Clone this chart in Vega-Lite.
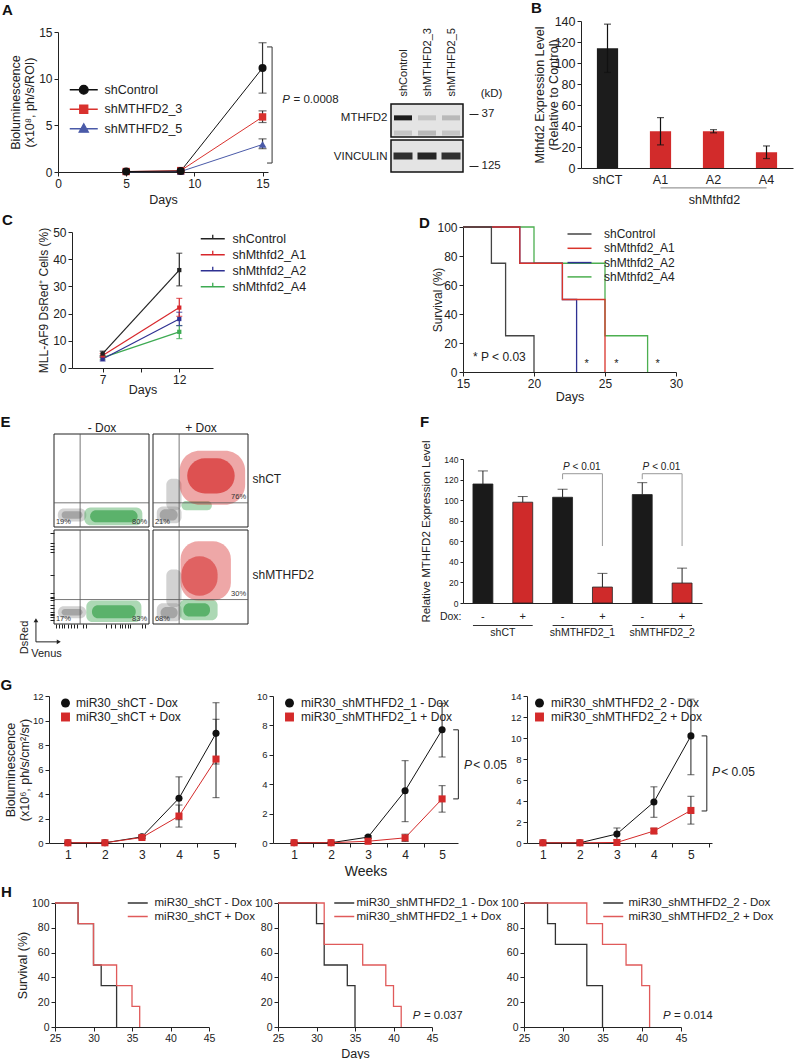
{
"$schema": "https://vega.github.io/schema/vega-lite/v6.json",
"background": "white",
"width": 794,
"height": 1059,
"autosize": {"type": "none"},
"padding": 0,
"config": {
 "font": "Liberation Sans",
 "view": {"stroke": null},
 "axis": {"grid": false, "domainColor": "#222", "tickColor": "#222", "labelColor": "#222", "titleColor": "#222", "titleFontWeight": "normal", "labelFontSize": 11, "titleFontSize": 12, "tickSize": 4, "labelPadding": 2, "titlePadding": 5, "labelFlush": false, "labelOverlap": false, "domainWidth": 1, "tickWidth": 1},
 "legend": {"padding": 0, "labelColor": "#222", "orient": "none"},
 "text": {"color": "#222"}
},
"datasets": {
 "A": [
  {"series":"shMTHFD2_5","day":5,"value":0.03},
  {"series":"shMTHFD2_5","day":9,"value":0.05},
  {"series":"shMTHFD2_5","day":15,"value":2.95,"lower":2.5,"upper":3.55},
  {"series":"shMTHFD2_3","day":5,"value":0.05},
  {"series":"shMTHFD2_3","day":9,"value":0.15},
  {"series":"shMTHFD2_3","day":15,"value":5.9,"lower":5.3,"upper":6.55},
  {"series":"shControl","day":5,"value":0.05},
  {"series":"shControl","day":9,"value":0.1},
  {"series":"shControl","day":15,"value":11.15,"lower":8.45,"upper":13.85}
 ],
 "B": [
  {"group":"shCT","value":114,"lower":91,"upper":137},
  {"group":"A1","value":35,"lower":22,"upper":48},
  {"group":"A2","value":35,"lower":33.5,"upper":36.5},
  {"group":"A4","value":15,"lower":9,"upper":21}
 ],
 "blot": [
  {"protein":"MTHFD2","lane":"shControl","laneIndex":1,"pos":0.42,"intensity":0.95},
  {"protein":"MTHFD2","lane":"shMTHFD2_3","laneIndex":2,"pos":0.42,"intensity":0.15},
  {"protein":"MTHFD2","lane":"shMTHFD2_5","laneIndex":3,"pos":0.42,"intensity":0.2},
  {"protein":"MTHFD2","lane":"shControl","laneIndex":1,"pos":0.88,"intensity":0.15},
  {"protein":"MTHFD2","lane":"shMTHFD2_3","laneIndex":2,"pos":0.88,"intensity":0.2},
  {"protein":"MTHFD2","lane":"shMTHFD2_5","laneIndex":3,"pos":0.88,"intensity":0.15},
  {"protein":"VINCULIN","lane":"shControl","laneIndex":1,"pos":0.5,"intensity":0.85},
  {"protein":"VINCULIN","lane":"shMTHFD2_3","laneIndex":2,"pos":0.5,"intensity":0.9},
  {"protein":"VINCULIN","lane":"shMTHFD2_5","laneIndex":3,"pos":0.5,"intensity":0.85}
 ],
 "C": [
  {"series":"shMthfd2_A4","day":7,"value":3.8,"lower":3.2,"upper":4.4},
  {"series":"shMthfd2_A4","day":12,"value":13.3,"lower":10.8,"upper":15.6},
  {"series":"shMthfd2_A2","day":7,"value":3.3,"lower":2.6,"upper":4.0},
  {"series":"shMthfd2_A2","day":12,"value":18.0,"lower":15.6,"upper":20.5},
  {"series":"shMthfd2_A1","day":7,"value":4.6,"lower":3.9,"upper":5.3},
  {"series":"shMthfd2_A1","day":12,"value":22.2,"lower":19.0,"upper":25.6},
  {"series":"shControl","day":7,"value":5.3,"lower":4.5,"upper":6.2},
  {"series":"shControl","day":12,"value":36.0,"lower":30.2,"upper":42.2}
 ],
 "D": [
  {"series":"shMthfd2_A4","day":15,"surv":100},{"series":"shMthfd2_A4","day":20,"surv":75},{"series":"shMthfd2_A4","day":25,"surv":25},{"series":"shMthfd2_A4","day":28,"surv":0},
  {"series":"shMthfd2_A2","day":15,"surv":100},{"series":"shMthfd2_A2","day":19,"surv":75},{"series":"shMthfd2_A2","day":22,"surv":50},{"series":"shMthfd2_A2","day":23,"surv":0},
  {"series":"shMthfd2_A1","day":15,"surv":100},{"series":"shMthfd2_A1","day":19,"surv":75},{"series":"shMthfd2_A1","day":22,"surv":50},{"series":"shMthfd2_A1","day":25,"surv":0},
  {"series":"shControl","day":15,"surv":100},{"series":"shControl","day":17,"surv":75},{"series":"shControl","day":18,"surv":25},{"series":"shControl","day":20,"surv":0}
 ],
 "flow": [
  {"panel":"TL","population":"gray","density":"sparse","x1":4,"x2":34,"y1":6,"y2":20},
  {"panel":"TL","population":"gray","density":"dense","x1":8,"x2":30,"y1":9,"y2":17},
  {"panel":"TL","population":"green","density":"sparse","x1":32,"x2":93,"y1":2,"y2":21},
  {"panel":"TL","population":"green","density":"dense","x1":38,"x2":88,"y1":5,"y2":18},
  {"panel":"TR","population":"gray","density":"sparse","x1":4,"x2":30,"y1":4,"y2":22},
  {"panel":"TR","population":"gray","density":"dense","x1":7,"x2":26,"y1":7,"y2":19},
  {"panel":"TR","population":"gray","density":"sparse","x1":14,"x2":30,"y1":18,"y2":52},
  {"panel":"TR","population":"green","density":"sparse","x1":30,"x2":62,"y1":18,"y2":28},
  {"panel":"TR","population":"red","density":"sparse","x1":28,"x2":97,"y1":24,"y2":82},
  {"panel":"TR","population":"red","density":"dense","x1":36,"x2":86,"y1":36,"y2":74},
  {"panel":"BL","population":"gray","density":"sparse","x1":4,"x2":34,"y1":6,"y2":19},
  {"panel":"BL","population":"gray","density":"dense","x1":8,"x2":30,"y1":9,"y2":16},
  {"panel":"BL","population":"green","density":"sparse","x1":34,"x2":92,"y1":2,"y2":25},
  {"panel":"BL","population":"green","density":"dense","x1":40,"x2":86,"y1":6,"y2":20},
  {"panel":"BR","population":"gray","density":"sparse","x1":4,"x2":30,"y1":3,"y2":22},
  {"panel":"BR","population":"gray","density":"dense","x1":8,"x2":26,"y1":6,"y2":18},
  {"panel":"BR","population":"gray","density":"sparse","x1":14,"x2":30,"y1":18,"y2":58},
  {"panel":"BR","population":"green","density":"sparse","x1":28,"x2":68,"y1":4,"y2":26},
  {"panel":"BR","population":"green","density":"dense","x1":32,"x2":60,"y1":8,"y2":22},
  {"panel":"BR","population":"red","density":"sparse","x1":29,"x2":82,"y1":25,"y2":88},
  {"panel":"BR","population":"red","density":"medium","x1":30,"x2":68,"y1":30,"y2":72}
 ],
 "pct": [
  {"panel":"TL","quadrant":"lower-left","pct":"19%"},
  {"panel":"TL","quadrant":"lower-right","pct":"80%"},
  {"panel":"TR","quadrant":"lower-left","pct":"21%"},
  {"panel":"TR","quadrant":"upper-right","pct":"76%"},
  {"panel":"BL","quadrant":"lower-left","pct":"17%"},
  {"panel":"BL","quadrant":"lower-right","pct":"83%"},
  {"panel":"BR","quadrant":"lower-left","pct":"68%"},
  {"panel":"BR","quadrant":"upper-right","pct":"30%"}
 ],
 "F": [
  {"bar":"shCT|-","group":"shCT","dox":"-","value":115.7,"upper":128.4},
  {"bar":"shCT|+","group":"shCT","dox":"+","value":98,"upper":103.5},
  {"bar":"shMTHFD2_1|-","group":"shMTHFD2_1","dox":"-","value":102.8,"upper":110.6},
  {"bar":"shMTHFD2_1|+","group":"shMTHFD2_1","dox":"+","value":15.5,"upper":28.8},
  {"bar":"shMTHFD2_2|-","group":"shMTHFD2_2","dox":"-","value":105.4,"upper":117},
  {"bar":"shMTHFD2_2|+","group":"shMTHFD2_2","dox":"+","value":19.4,"upper":33.9}
 ],
 "Fbr": [
  {"left":"shMTHFD2_1|-","right":"shMTHFD2_1|+","top":125.7,"leftLow":120.3,"rightLow":55.4},
  {"left":"shMTHFD2_2|-","right":"shMTHFD2_2|+","top":125.7,"leftLow":120.3,"rightLow":55.4}
 ],
 "Fgrp": [{"group":"shCT"},{"group":"shMTHFD2_1"},{"group":"shMTHFD2_2"}],
 "G": [
  {"panel":"shCT","series":"miR30_shCT - Dox","week":1,"value":0.02},
  {"panel":"shCT","series":"miR30_shCT - Dox","week":2,"value":0.02},
  {"panel":"shCT","series":"miR30_shCT - Dox","week":3,"value":0.5,"lower":0.35,"upper":0.65},
  {"panel":"shCT","series":"miR30_shCT - Dox","week":4,"value":3.65,"lower":1.9,"upper":5.4},
  {"panel":"shCT","series":"miR30_shCT - Dox","week":5,"value":8.95,"lower":6.45,"upper":11.45},
  {"panel":"shCT","series":"miR30_shCT + Dox","week":1,"value":0.02},
  {"panel":"shCT","series":"miR30_shCT + Dox","week":2,"value":0.02},
  {"panel":"shCT","series":"miR30_shCT + Dox","week":3,"value":0.45,"lower":0.35,"upper":0.55},
  {"panel":"shCT","series":"miR30_shCT + Dox","week":4,"value":2.2,"lower":1.3,"upper":3.1},
  {"panel":"shCT","series":"miR30_shCT + Dox","week":5,"value":6.85,"lower":3.7,"upper":10.1},
  {"panel":"sh1","series":"miR30_shMTHFD2_1 - Dox","week":1,"value":0.02},
  {"panel":"sh1","series":"miR30_shMTHFD2_1 - Dox","week":2,"value":0.02},
  {"panel":"sh1","series":"miR30_shMTHFD2_1 - Dox","week":3,"value":0.4,"lower":0.3,"upper":0.5},
  {"panel":"sh1","series":"miR30_shMTHFD2_1 - Dox","week":4,"value":3.55,"lower":1.45,"upper":5.6},
  {"panel":"sh1","series":"miR30_shMTHFD2_1 - Dox","week":5,"value":7.7,"lower":5.85,"upper":9.5},
  {"panel":"sh1","series":"miR30_shMTHFD2_1 + Dox","week":1,"value":0.02},
  {"panel":"sh1","series":"miR30_shMTHFD2_1 + Dox","week":2,"value":0.02},
  {"panel":"sh1","series":"miR30_shMTHFD2_1 + Dox","week":3,"value":0.12},
  {"panel":"sh1","series":"miR30_shMTHFD2_1 + Dox","week":4,"value":0.35,"lower":0.1,"upper":0.6},
  {"panel":"sh1","series":"miR30_shMTHFD2_1 + Dox","week":5,"value":3.0,"lower":2.1,"upper":3.9},
  {"panel":"sh2","series":"miR30_shMTHFD2_2 - Dox","week":1,"value":0.02},
  {"panel":"sh2","series":"miR30_shMTHFD2_2 - Dox","week":2,"value":0.02},
  {"panel":"sh2","series":"miR30_shMTHFD2_2 - Dox","week":3,"value":0.86,"lower":0.3,"upper":1.43},
  {"panel":"sh2","series":"miR30_shMTHFD2_2 - Dox","week":4,"value":3.9,"lower":2.45,"upper":5.35},
  {"panel":"sh2","series":"miR30_shMTHFD2_2 - Dox","week":5,"value":10.2,"lower":6.5,"upper":13.7},
  {"panel":"sh2","series":"miR30_shMTHFD2_2 + Dox","week":1,"value":0.02},
  {"panel":"sh2","series":"miR30_shMTHFD2_2 + Dox","week":2,"value":0.02},
  {"panel":"sh2","series":"miR30_shMTHFD2_2 + Dox","week":3,"value":0.05},
  {"panel":"sh2","series":"miR30_shMTHFD2_2 + Dox","week":4,"value":1.14,"lower":0.9,"upper":1.4},
  {"panel":"sh2","series":"miR30_shMTHFD2_2 + Dox","week":5,"value":3.1,"lower":1.8,"upper":4.45}
 ],
 "H": [
  {"panel":"shCT","series":"miR30_shCT - Dox","day":25,"surv":100},{"panel":"shCT","series":"miR30_shCT - Dox","day":28,"surv":83.3},{"panel":"shCT","series":"miR30_shCT - Dox","day":30,"surv":50},{"panel":"shCT","series":"miR30_shCT - Dox","day":31,"surv":33.3},{"panel":"shCT","series":"miR30_shCT - Dox","day":33,"surv":0},
  {"panel":"shCT","series":"miR30_shCT + Dox","day":25,"surv":100},{"panel":"shCT","series":"miR30_shCT + Dox","day":28,"surv":83.3},{"panel":"shCT","series":"miR30_shCT + Dox","day":30,"surv":50},{"panel":"shCT","series":"miR30_shCT + Dox","day":33,"surv":33.3},{"panel":"shCT","series":"miR30_shCT + Dox","day":35,"surv":16.7},{"panel":"shCT","series":"miR30_shCT + Dox","day":36,"surv":0},
  {"panel":"sh1","series":"miR30_shMTHFD2_1 - Dox","day":25,"surv":100},{"panel":"sh1","series":"miR30_shMTHFD2_1 - Dox","day":30,"surv":83.3},{"panel":"sh1","series":"miR30_shMTHFD2_1 - Dox","day":31,"surv":50},{"panel":"sh1","series":"miR30_shMTHFD2_1 - Dox","day":34,"surv":33.3},{"panel":"sh1","series":"miR30_shMTHFD2_1 - Dox","day":35,"surv":0},
  {"panel":"sh1","series":"miR30_shMTHFD2_1 + Dox","day":25,"surv":100},{"panel":"sh1","series":"miR30_shMTHFD2_1 + Dox","day":31,"surv":66.7},{"panel":"sh1","series":"miR30_shMTHFD2_1 + Dox","day":36,"surv":50},{"panel":"sh1","series":"miR30_shMTHFD2_1 + Dox","day":39,"surv":33.3},{"panel":"sh1","series":"miR30_shMTHFD2_1 + Dox","day":40,"surv":16.7},{"panel":"sh1","series":"miR30_shMTHFD2_1 + Dox","day":41,"surv":0},
  {"panel":"sh2","series":"miR30_shMTHFD2_2 - Dox","day":25,"surv":100},{"panel":"sh2","series":"miR30_shMTHFD2_2 - Dox","day":28,"surv":83.3},{"panel":"sh2","series":"miR30_shMTHFD2_2 - Dox","day":29,"surv":66.7},{"panel":"sh2","series":"miR30_shMTHFD2_2 - Dox","day":33,"surv":33.3},{"panel":"sh2","series":"miR30_shMTHFD2_2 - Dox","day":35,"surv":0},
  {"panel":"sh2","series":"miR30_shMTHFD2_2 + Dox","day":25,"surv":100},{"panel":"sh2","series":"miR30_shMTHFD2_2 + Dox","day":33,"surv":83.3},{"panel":"sh2","series":"miR30_shMTHFD2_2 + Dox","day":35,"surv":66.7},{"panel":"sh2","series":"miR30_shMTHFD2_2 + Dox","day":38,"surv":50},{"panel":"sh2","series":"miR30_shMTHFD2_2 + Dox","day":40,"surv":33.3},{"panel":"sh2","series":"miR30_shMTHFD2_2 + Dox","day":41,"surv":0}
 ]
},
"resolve": {
 "scale": {"x": "independent", "y": "independent", "color": "independent", "opacity": "independent", "shape": "independent", "fill": "independent", "stroke": "independent"},
 "axis": {"x": "independent", "y": "independent"},
 "legend": {"color": "independent", "opacity": "independent", "shape": "independent", "fill": "independent", "stroke": "independent"}
},
"layer": [
 {
  "layer": [
   {
    "data": {"name": "A"},
    "encoding": {"x": {"field": "day", "type": "quantitative", "scale": {"domain": [0, 15.4], "range": [58, 268], "nice": false}, "axis": {"orient": "bottom", "offset": -887, "values": [0, 5, 10, 15], "format": "~g", "labelFontSize": 12, "title": "Days", "titleFontSize": 12.5, "titleY": 27, "titleBaseline": "middle"}}},
    "layer": [
     {"mark": {"type": "line", "strokeWidth": 1}, "encoding": {
       "y": {"field": "value", "type": "quantitative", "scale": {"domain": [0, 15], "range": [172, 32], "nice": false}, "axis": {"orient": "left", "offset": -58, "values": [0, 5, 10, 15], "format": "~g", "labelFontSize": 12, "titleFontSize": 12.5, "titleX": -43, "titleBaseline": "middle"}, "title": ["Bioluminescence", "(x10⁸, ph/s/ROI)"]},
       "color": {"field": "series", "type": "nominal", "scale": {"domain": ["shControl", "shMTHFD2_3", "shMTHFD2_5"], "range": ["#111111", "#d9322e", "#4a5aa8"]}, "legend": {"title": null, "orient": "none", "legendX": 77.5, "legendY": 83.5, "symbolSize": 64, "symbolStrokeWidth": 1.3, "labelFontSize": 12.5, "labelOffset": 14.5, "rowPadding": 4.5, "encode": {"symbols": {"update": {"shape": {"signal": "datum.value == 'shControl' ? 'M-3.5,0H3.5M-1.1,0A1.1,1.1,0,1,0,1.1,0A1.1,1.1,0,1,0,-1.1,0Z' : datum.value == 'shMTHFD2_3' ? 'M-3.5,0H3.5M-1,-1H1V1H-1Z' : 'M-3.5,0H3.5M0,-1.25L1.15,0.85H-1.15Z'"}, "fill": {"signal": "datum.value == 'shControl' ? '#111111' : datum.value == 'shMTHFD2_3' ? '#d9322e' : '#4a5aa8'"}}}}}}}},
     {"mark": {"type": "rule", "color": "#333", "strokeWidth": 1.2}, "encoding": {"y": {"field": "lower", "type": "quantitative"}, "y2": {"field": "upper"}}},
     {"mark": {"type": "tick", "orient": "horizontal", "size": 8, "thickness": 1.2, "color": "#333"}, "encoding": {"y": {"field": "upper", "type": "quantitative"}}},
     {"mark": {"type": "tick", "orient": "horizontal", "size": 8, "thickness": 1.2, "color": "#333"}, "encoding": {"y": {"field": "lower", "type": "quantitative"}}},
     {"transform": [{"filter": "datum.series == 'shMTHFD2_5'"}], "mark": {"type": "point", "shape": "triangle-up", "filled": true, "opacity": 1, "size": 60, "color": "#4a5aa8"}, "encoding": {"y": {"field": "value", "type": "quantitative"}}},
     {"transform": [{"filter": "datum.series == 'shMTHFD2_3'"}], "mark": {"type": "point", "shape": "square", "filled": true, "opacity": 1, "size": 55, "color": "#d9322e"}, "encoding": {"y": {"field": "value", "type": "quantitative"}}},
     {"transform": [{"filter": "datum.series == 'shControl'"}], "mark": {"type": "point", "shape": "circle", "filled": true, "opacity": 1, "size": 65, "color": "#111111"}, "encoding": {"y": {"field": "value", "type": "quantitative"}}}
    ]
   },
   {"data": {"values": [{}]}, "mark": {"type": "rule", "color": "#333", "strokeWidth": 1}, "encoding": {"x": {"datum": 15.7}, "y": {"datum": 0.96}, "y2": {"datum": 13.4}}},
   {"data": {"values": [{}]}, "mark": {"type": "rule", "color": "#333", "strokeWidth": 1}, "encoding": {"x": {"datum": 15.33}, "x2": {"datum": 15.7}, "y": {"datum": 13.4}}},
   {"data": {"values": [{}]}, "mark": {"type": "rule", "color": "#333", "strokeWidth": 1}, "encoding": {"x": {"datum": 15.33}, "x2": {"datum": 15.7}, "y": {"datum": 0.96}}},
   {"data": {"values": [{}]}, "mark": {"type": "text", "text": "P", "fontStyle": "italic", "fontSize": 11.5, "align": "left", "baseline": "middle"}, "encoding": {"x": {"datum": 16.45}, "y": {"datum": 7.7}}},
   {"data": {"values": [{}]}, "mark": {"type": "text", "text": "= 0.0008", "fontSize": 11.5, "align": "left", "baseline": "middle"}, "encoding": {"x": {"datum": 17.27}, "y": {"datum": 7.7}}},
   {"data": {"values": [{}]}, "mark": {"type": "text", "text": "A", "fontSize": 15, "fontWeight": "bold", "align": "left", "baseline": "alphabetic", "color": "#111"}, "encoding": {"x": {"datum": -4.11}, "y": {"datum": 16.8}}}
  ]
 },
 {
  "layer": [
   {"data": {"values": [{}]}, "mark": {"type": "rect", "fill": "#e4e4e4", "stroke": "#111", "strokeWidth": 1.5}, "encoding": {
     "x": {"datum": 0.5, "type": "quantitative", "scale": {"domain": [0.5, 3.5], "range": [391, 463], "nice": false}, "axis": {"orient": "top", "offset": -104, "values": [1, 2, 3], "labelExpr": "datum.value == 1 ? 'shControl' : datum.value == 2 ? 'shMTHFD2_3' : 'shMTHFD2_5'", "labelAngle": -90, "labelFontSize": 11, "ticks": false, "domain": false, "labelPadding": 8, "title": null}},
     "x2": {"datum": 3.5},
     "y": {"datum": 0, "type": "quantitative", "scale": {"domain": [0, 1], "range": [104, 137], "nice": false}, "axis": {"orient": "left", "offset": -391, "values": [0.42], "labelExpr": "'MTHFD2'", "ticks": false, "domain": false, "labelFontSize": 11.5, "labelPadding": 4, "title": null}},
     "y2": {"datum": 1}}},
   {"data": {"name": "blot"}, "transform": [{"filter": "datum.protein == 'MTHFD2'"}], "mark": {"type": "tick", "orient": "horizontal", "thickness": 5, "size": 18, "color": "#111"}, "encoding": {
     "x": {"field": "laneIndex", "type": "quantitative"},
     "y": {"field": "pos", "type": "quantitative", "axis": null},
     "opacity": {"field": "intensity", "type": "quantitative", "scale": {"domain": [0, 1], "range": [0, 1]}, "legend": null}}},
   {"data": {"name": "blot"}, "transform": [{"filter": "datum.protein == 'MTHFD2'"}], "mark": {"type": "tick", "opacity": 0}, "encoding": {
     "x": {"field": "laneIndex", "type": "quantitative"},
     "y": {"field": "pos", "type": "quantitative", "axis": {"orient": "right", "offset": -325, "values": [0.3], "labelExpr": "'37'", "tickSize": 9, "domain": false, "labelFontSize": 11.5, "labelPadding": 3, "titleAngle": 0, "titleX": 22, "titleY": 93, "titleFontSize": 11.5, "titleAlign": "center", "titleBaseline": "middle"}, "title": "(kD)"}}},
   {"data": {"values": [{}]}, "mark": {"type": "text", "text": "B", "fontSize": 15, "fontWeight": "bold", "align": "left", "baseline": "alphabetic", "color": "#111"}, "encoding": {"x": {"datum": 6.33}, "y": {"datum": -2.76, "axis": null}}}
  ],
  "resolve": {"axis": {"y": "independent"}}
 },
 {
  "layer": [
   {"data": {"values": [{}]}, "mark": {"type": "rect", "fill": "#e4e4e4", "stroke": "#111", "strokeWidth": 1.5}, "encoding": {
     "x": {"datum": 0.5, "type": "quantitative", "scale": {"domain": [0.5, 3.5], "range": [391, 463], "nice": false}, "axis": {"orient": "bottom", "labels": false, "ticks": false, "domain": false, "title": null}},
     "x2": {"datum": 3.5},
     "y": {"datum": 0, "type": "quantitative", "scale": {"domain": [0, 1], "range": [140, 172], "nice": false}, "axis": {"orient": "left", "offset": -391, "values": [0.5], "labelExpr": "'VINCULIN'", "ticks": false, "domain": false, "labelFontSize": 11.5, "labelPadding": 4, "title": null}},
     "y2": {"datum": 1}}},
   {"data": {"name": "blot"}, "transform": [{"filter": "datum.protein == 'VINCULIN'"}], "mark": {"type": "tick", "orient": "horizontal", "thickness": 7, "size": 19, "color": "#111"}, "encoding": {
     "x": {"field": "laneIndex", "type": "quantitative"},
     "y": {"field": "pos", "type": "quantitative", "axis": null},
     "opacity": {"field": "intensity", "type": "quantitative", "scale": {"domain": [0, 1], "range": [0, 1]}, "legend": null}}},
   {"data": {"name": "blot"}, "transform": [{"filter": "datum.protein == 'VINCULIN'"}], "mark": {"type": "tick", "opacity": 0}, "encoding": {
     "x": {"field": "laneIndex", "type": "quantitative"},
     "y": {"field": "pos", "type": "quantitative", "axis": {"orient": "right", "offset": -325, "values": [0.81], "labelExpr": "'125'", "tickSize": 9, "domain": false, "labelFontSize": 11.5, "labelPadding": 3}, "title": null}}}
  ],
  "resolve": {"axis": {"y": "independent"}}
 },
 {
  "data": {"name": "B"},
  "encoding": {"x": {"field": "group", "type": "nominal", "sort": null, "scale": {"range": [581, 793], "paddingInner": 0.6, "paddingOuter": 0.3}, "axis": {"orient": "bottom", "offset": -891, "labelAngle": 0, "ticks": false, "labelFontSize": 12.5, "labelPadding": 5, "title": "shMthfd2", "titleX": 714, "titleY": 31, "titleBaseline": "middle", "titleAlign": "center", "titleFontSize": 12.5}}},
  "layer": [
   {"mark": {"type": "bar"}, "encoding": {
     "y": {"field": "value", "type": "quantitative", "scale": {"domain": [0, 140], "range": [168, 21], "nice": false}, "axis": {"orient": "left", "offset": -581, "values": [0, 20, 40, 60, 80, 100, 120, 140], "labelFontSize": 12.5, "titleFontSize": 12.5, "titleX": -42, "titleBaseline": "middle"}, "title": ["Mthfd2 Expression Level", "(Relative to Control)"]},
     "color": {"field": "group", "type": "nominal", "scale": {"domain": ["shCT", "A1", "A2", "A4"], "range": ["#1c1c1c", "#d22b2b", "#d22b2b", "#d22b2b"]}, "legend": null}}},
   {"mark": {"type": "rule", "color": "#111", "strokeWidth": 1.2}, "encoding": {"y": {"field": "lower", "type": "quantitative"}, "y2": {"field": "upper"}}},
   {"mark": {"type": "tick", "orient": "horizontal", "size": 7, "thickness": 1.2, "color": "#111"}, "encoding": {"y": {"field": "upper", "type": "quantitative"}}},
   {"mark": {"type": "tick", "orient": "horizontal", "size": 7, "thickness": 1.2, "color": "#111"}, "encoding": {"y": {"field": "lower", "type": "quantitative"}}},
   {"data": {"values": [{}]}, "mark": {"type": "rule", "color": "#999", "strokeWidth": 1.2}, "encoding": {"x": {"datum": "A1", "type": "nominal"}, "x2": {"datum": "A4"}, "y": {"datum": -19}}}
  ]
 },
 {
  "layer": [
   {
    "data": {"name": "C"},
    "encoding": {"x": {"field": "day", "type": "quantitative", "scale": {"domain": [5, 14.2], "range": [72, 213], "nice": false}, "axis": {"orient": "bottom", "offset": -691, "values": [7, 9.5, 12], "format": "~g", "labelExpr": "datum.value == 9.5 ? '' : datum.label", "labelFontSize": 12, "title": "Days", "titleFontSize": 12.5, "titleY": 21, "titleBaseline": "middle"}}},
    "layer": [
     {"mark": {"type": "line", "strokeWidth": 1.2}, "encoding": {
       "y": {"field": "value", "type": "quantitative", "scale": {"domain": [0, 50], "range": [368, 232], "nice": false}, "axis": {"orient": "left", "offset": -72, "values": [0, 10, 20, 30, 40, 50], "labelFontSize": 12, "titleFontSize": 12, "titleX": -28.5, "titleBaseline": "middle"}, "title": "MLL-AF9 DsRed⁺ Cells (%)"},
       "color": {"field": "series", "type": "nominal", "scale": {"domain": ["shControl", "shMthfd2_A1", "shMthfd2_A2", "shMthfd2_A4"], "range": ["#222222", "#d7262b", "#2e3192", "#3daa52"]}, "legend": {"title": null, "orient": "none", "legendX": 206.5, "legendY": 232.5, "symbolType": "M-3,0H3M0,0V-1", "symbolSize": 64, "symbolStrokeWidth": 1.3, "labelFontSize": 12.5, "labelOffset": 13.5, "rowPadding": 2}}}},
     {"mark": {"type": "rule", "strokeWidth": 1.2}, "encoding": {"y": {"field": "lower", "type": "quantitative"}, "y2": {"field": "upper"}, "color": {"field": "series", "type": "nominal", "legend": null}}},
     {"mark": {"type": "tick", "orient": "horizontal", "size": 6, "thickness": 1.2}, "encoding": {"y": {"field": "upper", "type": "quantitative"}, "color": {"field": "series", "type": "nominal", "legend": null}}},
     {"mark": {"type": "tick", "orient": "horizontal", "size": 6, "thickness": 1.2}, "encoding": {"y": {"field": "lower", "type": "quantitative"}, "color": {"field": "series", "type": "nominal", "legend": null}}},
     {"mark": {"type": "point", "shape": "square", "filled": true, "size": 18, "opacity": 1}, "encoding": {"y": {"field": "value", "type": "quantitative"}, "color": {"field": "series", "type": "nominal", "legend": null}}}
    ]
   },
   {"data": {"values": [{}]}, "mark": {"type": "text", "text": "C", "fontSize": 15, "fontWeight": "bold", "align": "left", "baseline": "alphabetic", "color": "#111"}, "encoding": {"x": {"datum": 0.43}, "y": {"datum": 52.57}}}
  ]
 },
 {
  "layer": [
   {"data": {"name": "D"}, "mark": {"type": "line", "interpolate": "step-after", "strokeWidth": 1.3}, "encoding": {
     "x": {"field": "day", "type": "quantitative", "scale": {"domain": [15, 30], "range": [463, 676], "nice": false}, "axis": {"orient": "bottom", "offset": -687, "values": [15, 20, 25, 30], "labelFontSize": 12, "title": "Days", "titleFontSize": 12.5, "titleY": 24, "titleBaseline": "middle"}},
     "y": {"field": "surv", "type": "quantitative", "scale": {"domain": [0, 100], "range": [372, 227], "nice": false}, "axis": {"orient": "left", "offset": -463, "values": [0, 20, 40, 60, 80, 100], "labelFontSize": 12, "titleFontSize": 12, "titleX": -25.5, "titleBaseline": "middle"}, "title": "Survival (%)"},
     "color": {"field": "series", "type": "nominal", "scale": {"domain": ["shControl", "shMthfd2_A1", "shMthfd2_A2", "shMthfd2_A4"], "range": ["#444444", "#d9342b", "#2e3192", "#4caf50"]}, "legend": {"title": null, "orient": "none", "legendX": 573.5, "legendY": 228, "symbolType": "M-3,0H3", "symbolSize": 64, "symbolStrokeWidth": 1.5, "labelFontSize": 12, "labelOffset": 18.5, "rowPadding": 2.3}}}},
   {"data": {"values": [{}]}, "mark": {"type": "text", "text": "* P < 0.03", "align": "left", "baseline": "middle", "fontSize": 12}, "encoding": {"x": {"datum": 15.7}, "y": {"datum": 10.3}}},
   {"data": {"values": [{"day": 23.7}, {"day": 25.8}, {"day": 28.7}]}, "mark": {"type": "text", "text": "*", "fontSize": 11, "baseline": "middle"}, "encoding": {"x": {"field": "day", "type": "quantitative"}, "y": {"datum": 5.5}}},
   {"data": {"values": [{}]}, "mark": {"type": "text", "text": "D", "fontSize": 15, "fontWeight": "bold", "align": "left", "baseline": "alphabetic", "color": "#111"}, "encoding": {"x": {"datum": 11.9}, "y": {"datum": 99.3}}},
   {"data": {"values": [{}]}, "mark": {"type": "text", "text": "F", "fontSize": 15, "fontWeight": "bold", "align": "left", "baseline": "alphabetic", "color": "#111"}, "encoding": {"x": {"datum": 11.97}, "y": {"datum": -37.9}}}
  ]
 },
 {
  "layer": [
   {"data": {"name": "flow"}, "transform": [{"filter": "datum.panel == 'TL'"}], "mark": {"type": "rect", "cornerRadius": 6}, "encoding": {
     "x": {"field": "x1", "type": "quantitative", "scale": {"domain": [0, 100], "range": [54, 149], "nice": false}, "axis": {"orient": "top", "offset": -434, "labels": false, "ticks": false, "domain": false, "title": "- Dox", "titleFontSize": 12, "titleY": -7, "titleBaseline": "middle"}},
     "x2": {"field": "x2"},
     "y": {"field": "y1", "type": "quantitative", "scale": {"domain": [0, 100], "range": [527, 434], "nice": false}, "axis": {"orient": "left", "offset": -54, "labels": false, "ticks": false, "domain": false, "title": null}},
     "y2": {"field": "y2"},
     "color": {"field": "population", "type": "nominal", "scale": {"domain": ["gray", "green", "red"], "range": ["#8e8e8e", "#2f9e44", "#d42424"]}, "legend": null},
     "opacity": {"field": "density", "type": "nominal", "scale": {"domain": ["sparse", "medium", "dense"], "range": [0.4, 0.65, 0.95]}, "legend": null}}},
   {"data": {"values": [{}]}, "mark": {"type": "rect", "fill": "transparent", "stroke": "#222", "strokeWidth": 1}, "encoding": {"x": {"datum": 0}, "x2": {"datum": 100}, "y": {"datum": 0}, "y2": {"datum": 100}}},
   {"data": {"values": [{}]}, "mark": {"type": "rule", "color": "#555", "strokeWidth": 0.8}, "encoding": {"x": {"datum": 27.5}, "y": {"datum": 0}, "y2": {"datum": 100}}},
   {"data": {"values": [{}]}, "mark": {"type": "rule", "color": "#555", "strokeWidth": 0.8}, "encoding": {"y": {"datum": 26}, "x": {"datum": 0}, "x2": {"datum": 100}}},
   {"data": {"name": "pct"}, "transform": [{"filter": "datum.panel == 'TL' && datum.quadrant == 'lower-left'"}], "mark": {"type": "text", "align": "left", "baseline": "bottom", "fontSize": 7.5, "color": "#333"}, "encoding": {"x": {"datum": 2}, "y": {"datum": 1}, "text": {"field": "pct"}}},
   {"data": {"name": "pct"}, "transform": [{"filter": "datum.panel == 'TL' && datum.quadrant == 'lower-right'"}], "mark": {"type": "text", "align": "right", "baseline": "bottom", "fontSize": 7.5, "color": "#333"}, "encoding": {"x": {"datum": 98}, "y": {"datum": 1}, "text": {"field": "pct"}}},
   {"data": {"values": [{}]}, "mark": {"type": "text", "text": "E", "fontSize": 15, "fontWeight": "bold", "align": "left", "baseline": "alphabetic", "color": "#111"}, "encoding": {"x": {"datum": -56.3}, "y": {"datum": 107.5}}}
  ]
 },
 {
  "layer": [
   {"data": {"name": "flow"}, "transform": [{"filter": "datum.panel == 'TR' && datum.population != 'red'"}], "mark": {"type": "rect", "cornerRadius": 6}, "encoding": {
     "x": {"field": "x1", "type": "quantitative", "scale": {"domain": [0, 100], "range": [153, 248], "nice": false}, "axis": {"orient": "top", "offset": -434, "labels": false, "ticks": false, "domain": false, "title": "+ Dox", "titleFontSize": 12, "titleY": -7, "titleBaseline": "middle"}},
     "x2": {"field": "x2"},
     "y": {"field": "y1", "type": "quantitative", "scale": {"domain": [0, 100], "range": [527, 434], "nice": false}, "axis": {"orient": "right", "offset": -546, "labels": false, "ticks": false, "domain": false, "title": "shCT", "titleAngle": 0, "titleAlign": "left", "titleBaseline": "middle", "titleX": 4, "titleY": 478, "titleFontSize": 12}},
     "y2": {"field": "y2"},
     "color": {"field": "population", "type": "nominal", "scale": {"domain": ["gray", "green", "red"], "range": ["#8e8e8e", "#2f9e44", "#d42424"]}, "legend": null},
     "opacity": {"field": "density", "type": "nominal", "scale": {"domain": ["sparse", "medium", "dense"], "range": [0.4, 0.65, 0.95]}, "legend": null}}},
   {"data": {"name": "flow"}, "transform": [{"filter": "datum.panel == 'TR' && datum.population == 'red'"}], "mark": {"type": "rect", "cornerRadius": 20}, "encoding": {
     "x": {"field": "x1", "type": "quantitative"}, "x2": {"field": "x2"}, "y": {"field": "y1", "type": "quantitative"}, "y2": {"field": "y2"},
     "color": {"field": "population", "type": "nominal", "legend": null},
     "opacity": {"field": "density", "type": "nominal", "legend": null}}},
   {"data": {"values": [{}]}, "mark": {"type": "rect", "fill": "transparent", "stroke": "#222", "strokeWidth": 1}, "encoding": {"x": {"datum": 0}, "x2": {"datum": 100}, "y": {"datum": 0}, "y2": {"datum": 100}}},
   {"data": {"values": [{}]}, "mark": {"type": "rule", "color": "#555", "strokeWidth": 0.8}, "encoding": {"x": {"datum": 27.5}, "y": {"datum": 0}, "y2": {"datum": 100}}},
   {"data": {"values": [{}]}, "mark": {"type": "rule", "color": "#555", "strokeWidth": 0.8}, "encoding": {"y": {"datum": 26}, "x": {"datum": 0}, "x2": {"datum": 100}}},
   {"data": {"name": "pct"}, "transform": [{"filter": "datum.panel == 'TR' && datum.quadrant == 'lower-left'"}], "mark": {"type": "text", "align": "left", "baseline": "bottom", "fontSize": 7.5, "color": "#333"}, "encoding": {"x": {"datum": 2}, "y": {"datum": 1}, "text": {"field": "pct"}}},
   {"data": {"name": "pct"}, "transform": [{"filter": "datum.panel == 'TR' && datum.quadrant == 'upper-right'"}], "mark": {"type": "text", "align": "right", "baseline": "bottom", "fontSize": 7.5, "color": "#333"}, "encoding": {"x": {"datum": 98}, "y": {"datum": 28}, "text": {"field": "pct"}}}
  ]
 },
 {
  "layer": [
   {"data": {"name": "flow"}, "transform": [{"filter": "datum.panel == 'BL'"}], "mark": {"type": "rect", "cornerRadius": 6}, "encoding": {
     "x": {"field": "x1", "type": "quantitative", "scale": {"domain": [0, 100], "range": [54, 149], "nice": false}, "axis": {"orient": "bottom", "offset": -435, "values": [2.5, 5, 8, 11, 15, 18, 21, 24, 31, 34, 55, 60, 64, 69, 72, 75, 78, 80, 93, 96], "labels": false, "tickSize": 4, "domain": false, "title": "Venus", "titleX": 46, "titleY": 29, "titleAlign": "center", "titleBaseline": "middle", "titleFontSize": 11}},
     "x2": {"field": "x2"},
     "y": {"field": "y1", "type": "quantitative", "scale": {"domain": [0, 100], "range": [624, 530], "nice": false}, "axis": {"orient": "left", "offset": -54, "values": [4, 7, 9.6, 11, 13, 17, 20, 25.7, 27.5, 29, 33, 52, 77, 80, 83, 86, 97], "labels": false, "tickSize": 4, "domain": false, "title": "DsRed", "titleX": -30, "titleY": 637, "titleAngle": -90, "titleAlign": "center", "titleBaseline": "middle", "titleFontSize": 11}},
     "y2": {"field": "y2"},
     "color": {"field": "population", "type": "nominal", "scale": {"domain": ["gray", "green", "red"], "range": ["#8e8e8e", "#2f9e44", "#d42424"]}, "legend": null},
     "opacity": {"field": "density", "type": "nominal", "scale": {"domain": ["sparse", "medium", "dense"], "range": [0.4, 0.65, 0.95]}, "legend": null}}},
   {"data": {"values": [{}]}, "mark": {"type": "rect", "fill": "transparent", "stroke": "#222", "strokeWidth": 1}, "encoding": {"x": {"datum": 0}, "x2": {"datum": 100}, "y": {"datum": 0}, "y2": {"datum": 100}}},
   {"data": {"values": [{}]}, "mark": {"type": "rule", "color": "#555", "strokeWidth": 0.8}, "encoding": {"x": {"datum": 27.5}, "y": {"datum": 0}, "y2": {"datum": 100}}},
   {"data": {"values": [{}]}, "mark": {"type": "rule", "color": "#555", "strokeWidth": 0.8}, "encoding": {"y": {"datum": 26}, "x": {"datum": 0}, "x2": {"datum": 100}}},
   {"data": {"name": "pct"}, "transform": [{"filter": "datum.panel == 'BL' && datum.quadrant == 'lower-left'"}], "mark": {"type": "text", "align": "left", "baseline": "bottom", "fontSize": 7.5, "color": "#333"}, "encoding": {"x": {"datum": 2}, "y": {"datum": 1}, "text": {"field": "pct"}}},
   {"data": {"name": "pct"}, "transform": [{"filter": "datum.panel == 'BL' && datum.quadrant == 'lower-right'"}], "mark": {"type": "text", "align": "right", "baseline": "bottom", "fontSize": 7.5, "color": "#333"}, "encoding": {"x": {"datum": 98}, "y": {"datum": 1}, "text": {"field": "pct"}}},
   {"data": {"values": [{}]}, "mark": {"type": "rule", "color": "#222", "strokeWidth": 1}, "encoding": {"x": {"datum": -19}, "y": {"datum": -19}, "y2": {"datum": 4}}},
   {"data": {"values": [{}]}, "mark": {"type": "rule", "color": "#222", "strokeWidth": 1}, "encoding": {"x": {"datum": -19}, "x2": {"datum": 5}, "y": {"datum": -19}}},
   {"data": {"values": [{}]}, "mark": {"type": "point", "shape": "triangle-up", "filled": true, "size": 22, "color": "#222", "opacity": 1}, "encoding": {"x": {"datum": -19}, "y": {"datum": 4}}},
   {"data": {"values": [{}]}, "mark": {"type": "point", "shape": "triangle-right", "filled": true, "size": 22, "color": "#222", "opacity": 1}, "encoding": {"x": {"datum": 5}, "y": {"datum": -19}}}
  ]
 },
 {
  "layer": [
   {"data": {"name": "flow"}, "transform": [{"filter": "datum.panel == 'BR' && datum.population != 'red'"}], "mark": {"type": "rect", "cornerRadius": 6}, "encoding": {
     "x": {"field": "x1", "type": "quantitative", "scale": {"domain": [0, 100], "range": [153, 248], "nice": false}, "axis": {"orient": "bottom", "offset": -435, "labels": false, "ticks": false, "domain": false, "title": null}},
     "x2": {"field": "x2"},
     "y": {"field": "y1", "type": "quantitative", "scale": {"domain": [0, 100], "range": [624, 530], "nice": false}, "axis": {"orient": "right", "offset": -546, "labels": false, "ticks": false, "domain": false, "title": "shMTHFD2", "titleAngle": 0, "titleAlign": "left", "titleBaseline": "middle", "titleX": 4, "titleY": 574, "titleFontSize": 12}},
     "y2": {"field": "y2"},
     "color": {"field": "population", "type": "nominal", "scale": {"domain": ["gray", "green", "red"], "range": ["#8e8e8e", "#2f9e44", "#d42424"]}, "legend": null},
     "opacity": {"field": "density", "type": "nominal", "scale": {"domain": ["sparse", "medium", "dense"], "range": [0.4, 0.65, 0.95]}, "legend": null}}},
   {"data": {"name": "flow"}, "transform": [{"filter": "datum.panel == 'BR' && datum.population == 'red'"}], "mark": {"type": "rect", "cornerRadius": 18}, "encoding": {
     "x": {"field": "x1", "type": "quantitative"}, "x2": {"field": "x2"}, "y": {"field": "y1", "type": "quantitative"}, "y2": {"field": "y2"},
     "color": {"field": "population", "type": "nominal", "legend": null},
     "opacity": {"field": "density", "type": "nominal", "legend": null}}},
   {"data": {"values": [{}]}, "mark": {"type": "rect", "fill": "transparent", "stroke": "#222", "strokeWidth": 1}, "encoding": {"x": {"datum": 0}, "x2": {"datum": 100}, "y": {"datum": 0}, "y2": {"datum": 100}}},
   {"data": {"values": [{}]}, "mark": {"type": "rule", "color": "#555", "strokeWidth": 0.8}, "encoding": {"x": {"datum": 27.5}, "y": {"datum": 0}, "y2": {"datum": 100}}},
   {"data": {"values": [{}]}, "mark": {"type": "rule", "color": "#555", "strokeWidth": 0.8}, "encoding": {"y": {"datum": 26}, "x": {"datum": 0}, "x2": {"datum": 100}}},
   {"data": {"name": "pct"}, "transform": [{"filter": "datum.panel == 'BR' && datum.quadrant == 'lower-left'"}], "mark": {"type": "text", "align": "left", "baseline": "bottom", "fontSize": 7.5, "color": "#333"}, "encoding": {"x": {"datum": 2}, "y": {"datum": 1}, "text": {"field": "pct"}}},
   {"data": {"name": "pct"}, "transform": [{"filter": "datum.panel == 'BR' && datum.quadrant == 'upper-right'"}], "mark": {"type": "text", "align": "right", "baseline": "bottom", "fontSize": 7.5, "color": "#333"}, "encoding": {"x": {"datum": 98}, "y": {"datum": 28}, "text": {"field": "pct"}}}
  ]
 },
 {
  "layer": [
   {
    "encoding": {"x": {"field": "bar", "type": "nominal", "sort": null, "scale": {"range": [463, 702], "paddingInner": 0.5, "paddingOuter": 0.25}, "axis": {"orient": "bottom", "offset": -456, "labelExpr": "split(datum.label, '|')[1]", "labelAngle": 0, "ticks": false, "labelFontSize": 11, "labelPadding": 7, "title": "Dox:", "titleX": 461, "titleY": 13, "titleAlign": "right", "titleBaseline": "middle", "titleFontSize": 10.5}}},
    "layer": [
     {"data": {"name": "F"}, "mark": {"type": "bar", "stroke": "#222", "strokeWidth": 0.8}, "encoding": {
       "y": {"field": "value", "type": "quantitative", "scale": {"domain": [0, 140], "range": [603, 459], "nice": false}, "axis": {"orient": "left", "offset": -463, "values": [0, 20, 40, 60, 80, 100, 120, 140], "labelFontSize": 8.5, "tickSize": 3, "titleX": -37, "titleBaseline": "middle", "titleFontSize": 11.5}, "title": "Relative MTHFD2 Expression Level"},
       "color": {"field": "dox", "type": "nominal", "scale": {"domain": ["-", "+"], "range": ["#1a1a1a", "#cf2a2a"]}, "legend": null}}},
     {"data": {"name": "F"}, "mark": {"type": "rule", "color": "#222", "strokeWidth": 1}, "encoding": {"y": {"field": "value", "type": "quantitative"}, "y2": {"field": "upper"}}},
     {"data": {"name": "F"}, "mark": {"type": "tick", "orient": "horizontal", "size": 10, "thickness": 1, "color": "#222"}, "encoding": {"y": {"field": "upper", "type": "quantitative"}}},
     {"data": {"name": "Fbr"}, "mark": {"type": "rule", "color": "#999", "strokeWidth": 1}, "encoding": {"x": {"field": "left", "type": "nominal"}, "y": {"field": "leftLow", "type": "quantitative"}, "y2": {"field": "top"}}},
     {"data": {"name": "Fbr"}, "mark": {"type": "rule", "color": "#999", "strokeWidth": 1}, "encoding": {"x": {"field": "left", "type": "nominal"}, "x2": {"field": "right"}, "y": {"field": "top", "type": "quantitative"}}},
     {"data": {"name": "Fbr"}, "mark": {"type": "rule", "color": "#999", "strokeWidth": 1}, "encoding": {"x": {"field": "right", "type": "nominal"}, "y": {"field": "rightLow", "type": "quantitative"}, "y2": {"field": "top"}}},
     {"data": {"name": "Fbr"}, "mark": {"type": "text", "text": "P", "fontStyle": "italic", "fontSize": 10, "align": "right", "baseline": "middle", "dx": 7}, "encoding": {"x": {"field": "left", "type": "nominal"}, "y": {"datum": 132.5}}},
     {"data": {"name": "Fbr"}, "mark": {"type": "text", "text": "< 0.01", "fontSize": 10, "align": "left", "baseline": "middle", "dx": 10}, "encoding": {"x": {"field": "left", "type": "nominal"}, "y": {"datum": 132.5}}}
    ]
   },
   {
    "data": {"name": "Fgrp"},
    "encoding": {"x": {"field": "group", "type": "nominal", "sort": null, "scale": {"range": [463, 702], "paddingInner": 0.25, "paddingOuter": 0.125}, "axis": null}},
    "layer": [
     {"mark": {"type": "rect", "color": "#333"}, "encoding": {"y": {"datum": -21.3}, "y2": {"datum": -22.3}}},
     {"mark": {"type": "text", "fontSize": 10.5, "baseline": "middle"}, "encoding": {"y": {"datum": -29.2}, "text": {"field": "group"}}}
    ]
   }
  ],
  "resolve": {"scale": {"x": "independent"}, "axis": {"x": "independent"}}
 },
 {
  "layer": [
   {
    "data": {"name": "G"},
    "transform": [{"filter": "datum.panel == 'shCT'"}],
    "encoding": {"x": {"field": "week", "type": "quantitative", "scale": {"domain": [0.49, 5.54], "range": [49, 236], "nice": false}, "axis": {"orient": "bottom", "offset": -216, "values": [1, 1.5, 2, 2.5, 3, 3.5, 4, 4.5, 5, 5.5], "labelExpr": "datum.value % 1 == 0 ? format(datum.value, 'd') : ''", "tickColor": {"condition": {"test": "datum.value % 1 == 0", "value": "transparent"}, "value": "#222"}, "labelFontSize": 12, "labelPadding": 2, "title": null}}},
    "layer": [
     {"mark": {"type": "line", "strokeWidth": 1}, "encoding": {
       "y": {"field": "value", "type": "quantitative", "scale": {"domain": [0, 12], "range": [843, 696], "nice": false}, "axis": {"orient": "left", "offset": -49, "values": [0, 2, 4, 6, 8, 10, 12], "format": "~g", "labelFontSize": 9.5, "titleFontSize": 12.5, "titleX": -39, "titleBaseline": "middle"}, "title": ["Bioluminescence", "(x10⁶, ph/s/cm²/sr)"]},
       "color": {"field": "series", "type": "nominal", "scale": {"domain": ["miR30_shCT - Dox", "miR30_shCT + Dox"], "range": ["#111111", "#d42a2a"]}, "legend": {"title": null, "orient": "none", "legendX": 59.5, "legendY": 697, "symbolSize": 80, "symbolStrokeWidth": 0, "labelFontSize": 12, "labelOffset": 4.5, "rowPadding": 2, "encode": {"symbols": {"update": {"shape": {"signal": "indexof(datum.value, '- Dox') >= 0 ? 'circle' : 'square'"}, "fill": {"signal": "indexof(datum.value, '- Dox') >= 0 ? '#111111' : '#d42a2a'"}}}}}}}},
     {"mark": {"type": "rule", "color": "#222"}, "encoding": {"y": {"field": "lower", "type": "quantitative"}, "y2": {"field": "upper"}}},
     {"mark": {"type": "tick", "orient": "horizontal", "size": 7, "thickness": 1, "color": "#222"}, "encoding": {"y": {"field": "upper", "type": "quantitative"}}},
     {"mark": {"type": "tick", "orient": "horizontal", "size": 7, "thickness": 1, "color": "#222"}, "encoding": {"y": {"field": "lower", "type": "quantitative"}}},
     {"mark": {"type": "point", "filled": true, "size": 50, "opacity": 1}, "encoding": {
       "y": {"field": "value", "type": "quantitative"},
       "shape": {"field": "series", "type": "nominal", "scale": {"domain": ["miR30_shCT - Dox", "miR30_shCT + Dox"], "range": ["circle", "square"]}, "legend": null},
       "color": {"field": "series", "type": "nominal", "legend": null}}}
    ]
   },
   {"data": {"values": [{}]}, "mark": {"type": "text", "text": "G", "fontSize": 15, "fontWeight": "bold", "align": "left", "baseline": "alphabetic", "color": "#111"}, "encoding": {"x": {"datum": -0.82}, "y": {"datum": 12.49}}}
  ]
 },
 {
  "layer": [
   {
    "data": {"name": "G"},
    "transform": [{"filter": "datum.panel == 'sh1'"}],
    "encoding": {"x": {"field": "week", "type": "quantitative", "scale": {"domain": [0.43, 5.43], "range": [273, 458], "nice": false}, "axis": {"orient": "bottom", "offset": -216, "values": [1, 1.5, 2, 2.5, 3, 3.5, 4, 4.5, 5], "labelExpr": "datum.value % 1 == 0 ? format(datum.value, 'd') : ''", "tickColor": {"condition": {"test": "datum.value % 1 == 0", "value": "transparent"}, "value": "#222"}, "labelFontSize": 12, "labelPadding": 2, "title": "Weeks", "titleFontSize": 14, "titleY": 28, "titleBaseline": "middle"}}},
    "layer": [
     {"mark": {"type": "line", "strokeWidth": 1}, "encoding": {
       "y": {"field": "value", "type": "quantitative", "scale": {"domain": [0, 10], "range": [843, 696], "nice": false}, "axis": {"orient": "left", "offset": -273, "values": [0, 2, 4, 6, 8, 10], "format": "~g", "labelFontSize": 9.5}, "title": null},
       "color": {"field": "series", "type": "nominal", "scale": {"domain": ["miR30_shMTHFD2_1 - Dox", "miR30_shMTHFD2_1 + Dox"], "range": ["#111111", "#d42a2a"]}, "legend": {"title": null, "orient": "none", "legendX": 283.5, "legendY": 697, "symbolSize": 80, "symbolStrokeWidth": 0, "labelFontSize": 12, "labelOffset": 5.5, "rowPadding": 2, "encode": {"symbols": {"update": {"shape": {"signal": "indexof(datum.value, '- Dox') >= 0 ? 'circle' : 'square'"}, "fill": {"signal": "indexof(datum.value, '- Dox') >= 0 ? '#111111' : '#d42a2a'"}}}}}}}},
     {"mark": {"type": "rule", "color": "#222"}, "encoding": {"y": {"field": "lower", "type": "quantitative"}, "y2": {"field": "upper"}}},
     {"mark": {"type": "tick", "orient": "horizontal", "size": 7, "thickness": 1, "color": "#222"}, "encoding": {"y": {"field": "upper", "type": "quantitative"}}},
     {"mark": {"type": "tick", "orient": "horizontal", "size": 7, "thickness": 1, "color": "#222"}, "encoding": {"y": {"field": "lower", "type": "quantitative"}}},
     {"mark": {"type": "point", "filled": true, "size": 50, "opacity": 1}, "encoding": {
       "y": {"field": "value", "type": "quantitative"},
       "shape": {"field": "series", "type": "nominal", "scale": {"domain": ["miR30_shMTHFD2_1 - Dox", "miR30_shMTHFD2_1 + Dox"], "range": ["circle", "square"]}, "legend": null},
       "color": {"field": "series", "type": "nominal", "legend": null}}}
    ]
   },
   {"data": {"values": [{}]}, "mark": {"type": "rule", "color": "#222", "strokeWidth": 1}, "encoding": {"x": {"datum": 5.44}, "y": {"datum": 3.0}, "y2": {"datum": 7.7}}},
   {"data": {"values": [{}]}, "mark": {"type": "rule", "color": "#222", "strokeWidth": 1}, "encoding": {"x": {"datum": 5.3}, "x2": {"datum": 5.44}, "y": {"datum": 7.7}}},
   {"data": {"values": [{}]}, "mark": {"type": "rule", "color": "#222", "strokeWidth": 1}, "encoding": {"x": {"datum": 5.3}, "x2": {"datum": 5.44}, "y": {"datum": 3.0}}},
   {"data": {"values": [{}]}, "mark": {"type": "text", "text": "P", "fontStyle": "italic", "fontSize": 12, "align": "left", "baseline": "middle"}, "encoding": {"x": {"datum": 5.59}, "y": {"datum": 5.3}}},
   {"data": {"values": [{}]}, "mark": {"type": "text", "text": "< 0.05", "fontSize": 12, "align": "left", "baseline": "middle"}, "encoding": {"x": {"datum": 5.84}, "y": {"datum": 5.3}}}
  ]
 },
 {
  "layer": [
   {
    "data": {"name": "G"},
    "transform": [{"filter": "datum.panel == 'sh2'"}],
    "encoding": {"x": {"field": "week", "type": "quantitative", "scale": {"domain": [0.57, 5.57], "range": [527, 712], "nice": false}, "axis": {"orient": "bottom", "offset": -216, "values": [1, 1.5, 2, 2.5, 3, 3.5, 4, 4.5, 5, 5.5], "labelExpr": "datum.value % 1 == 0 ? format(datum.value, 'd') : ''", "tickColor": {"condition": {"test": "datum.value % 1 == 0", "value": "transparent"}, "value": "#222"}, "labelFontSize": 12, "labelPadding": 2, "title": null}}},
    "layer": [
     {"mark": {"type": "line", "strokeWidth": 1}, "encoding": {
       "y": {"field": "value", "type": "quantitative", "scale": {"domain": [0, 14], "range": [843, 696], "nice": false}, "axis": {"orient": "left", "offset": -527, "values": [0, 2, 4, 6, 8, 10, 12, 14], "format": "~g", "labelFontSize": 9.5}, "title": null},
       "color": {"field": "series", "type": "nominal", "scale": {"domain": ["miR30_shMTHFD2_2 - Dox", "miR30_shMTHFD2_2 + Dox"], "range": ["#111111", "#d42a2a"]}, "legend": {"title": null, "orient": "none", "legendX": 533.5, "legendY": 697, "symbolSize": 80, "symbolStrokeWidth": 0, "labelFontSize": 12, "labelOffset": 5.5, "rowPadding": 2, "encode": {"symbols": {"update": {"shape": {"signal": "indexof(datum.value, '- Dox') >= 0 ? 'circle' : 'square'"}, "fill": {"signal": "indexof(datum.value, '- Dox') >= 0 ? '#111111' : '#d42a2a'"}}}}}}}},
     {"mark": {"type": "rule", "color": "#222"}, "encoding": {"y": {"field": "lower", "type": "quantitative"}, "y2": {"field": "upper"}}},
     {"mark": {"type": "tick", "orient": "horizontal", "size": 7, "thickness": 1, "color": "#222"}, "encoding": {"y": {"field": "upper", "type": "quantitative"}}},
     {"mark": {"type": "tick", "orient": "horizontal", "size": 7, "thickness": 1, "color": "#222"}, "encoding": {"y": {"field": "lower", "type": "quantitative"}}},
     {"mark": {"type": "point", "filled": true, "size": 50, "opacity": 1}, "encoding": {
       "y": {"field": "value", "type": "quantitative"},
       "shape": {"field": "series", "type": "nominal", "scale": {"domain": ["miR30_shMTHFD2_2 - Dox", "miR30_shMTHFD2_2 + Dox"], "range": ["circle", "square"]}, "legend": null},
       "color": {"field": "series", "type": "nominal", "legend": null}}}
    ]
   },
   {"data": {"values": [{}]}, "mark": {"type": "rule", "color": "#222", "strokeWidth": 1}, "encoding": {"x": {"datum": 5.43}, "y": {"datum": 3.05}, "y2": {"datum": 10.2}}},
   {"data": {"values": [{}]}, "mark": {"type": "rule", "color": "#222", "strokeWidth": 1}, "encoding": {"x": {"datum": 5.29}, "x2": {"datum": 5.43}, "y": {"datum": 10.2}}},
   {"data": {"values": [{}]}, "mark": {"type": "rule", "color": "#222", "strokeWidth": 1}, "encoding": {"x": {"datum": 5.29}, "x2": {"datum": 5.43}, "y": {"datum": 3.05}}},
   {"data": {"values": [{}]}, "mark": {"type": "text", "text": "P", "fontStyle": "italic", "fontSize": 12, "align": "left", "baseline": "middle"}, "encoding": {"x": {"datum": 5.57}, "y": {"datum": 6.76}}},
   {"data": {"values": [{}]}, "mark": {"type": "text", "text": "< 0.05", "fontSize": 12, "align": "left", "baseline": "middle"}, "encoding": {"x": {"datum": 5.82}, "y": {"datum": 6.76}}}
  ]
 },
 {
  "layer": [
   {"data": {"name": "H"}, "transform": [{"filter": "datum.panel == 'shCT'"}], "mark": {"type": "line", "interpolate": "step-after", "strokeWidth": 1.3}, "encoding": {
     "x": {"field": "day", "type": "quantitative", "scale": {"domain": [25, 45], "range": [55, 209], "nice": false}, "axis": {"orient": "bottom", "offset": -32, "values": [25, 30, 35, 40, 45], "labelFontSize": 10.5, "title": null}},
     "y": {"field": "surv", "type": "quantitative", "scale": {"domain": [0, 100], "range": [1027, 903], "nice": false}, "axis": {"orient": "left", "offset": -55, "values": [0, 20, 40, 60, 80, 100], "labelFontSize": 10.5, "titleFontSize": 12.5, "titleX": -32.3, "titleBaseline": "middle"}, "title": "Survival (%)"},
     "color": {"field": "series", "type": "nominal", "scale": {"domain": ["miR30_shCT - Dox", "miR30_shCT + Dox"], "range": ["#333333", "#e05a5a"]}, "legend": {"title": null, "orient": "none", "legendX": 132, "legendY": 897.25, "symbolType": "M-2.5,0H2.5", "symbolSize": 64, "symbolStrokeWidth": 1.5, "labelFontSize": 11.5, "labelOffset": 11, "rowPadding": 0.5}}}},
   {"data": {"values": [{}]}, "mark": {"type": "text", "text": "H", "fontSize": 15, "fontWeight": "bold", "align": "left", "baseline": "alphabetic", "color": "#111"}, "encoding": {"x": {"datum": 17.99}, "y": {"datum": 104.8}}}
  ]
 },
 {
  "layer": [
   {"data": {"name": "H"}, "transform": [{"filter": "datum.panel == 'sh1'"}], "mark": {"type": "line", "interpolate": "step-after", "strokeWidth": 1.3}, "encoding": {
     "x": {"field": "day", "type": "quantitative", "scale": {"domain": [25, 45], "range": [278, 432], "nice": false}, "axis": {"orient": "bottom", "offset": -32, "values": [25, 30, 35, 40, 45], "labelFontSize": 10.5, "title": "Days", "titleFontSize": 12.5, "titleY": 26, "titleBaseline": "middle"}},
     "y": {"field": "surv", "type": "quantitative", "scale": {"domain": [0, 100], "range": [1027, 903], "nice": false}, "axis": {"orient": "left", "offset": -278, "values": [0, 20, 40, 60, 80, 100], "labelFontSize": 10.5}, "title": null},
     "color": {"field": "series", "type": "nominal", "scale": {"domain": ["miR30_shMTHFD2_1 - Dox", "miR30_shMTHFD2_1 + Dox"], "range": ["#333333", "#e05a5a"]}, "legend": {"title": null, "orient": "none", "legendX": 338.5, "legendY": 897.25, "symbolType": "M-2.5,0H2.5", "symbolSize": 64, "symbolStrokeWidth": 1.5, "labelFontSize": 11.5, "labelOffset": 6.5, "rowPadding": 0.5}}}},
   {"data": {"values": [{}]}, "mark": {"type": "text", "text": "P", "fontStyle": "italic", "fontSize": 11.5, "align": "left", "baseline": "middle"}, "encoding": {"x": {"datum": 42.5}, "y": {"datum": 8.9}}},
   {"data": {"values": [{}]}, "mark": {"type": "text", "text": "= 0.037", "fontSize": 11.5, "align": "left", "baseline": "middle"}, "encoding": {"x": {"datum": 43.95}, "y": {"datum": 8.9}}}
  ]
 },
 {
  "layer": [
   {"data": {"name": "H"}, "transform": [{"filter": "datum.panel == 'sh2'"}], "mark": {"type": "line", "interpolate": "step-after", "strokeWidth": 1.3}, "encoding": {
     "x": {"field": "day", "type": "quantitative", "scale": {"domain": [25, 45], "range": [524, 681], "nice": false}, "axis": {"orient": "bottom", "offset": -32, "values": [25, 30, 35, 40, 45], "labelFontSize": 10.5, "title": null}},
     "y": {"field": "surv", "type": "quantitative", "scale": {"domain": [0, 100], "range": [1027, 903], "nice": false}, "axis": {"orient": "left", "offset": -524, "values": [0, 20, 40, 60, 80, 100], "labelFontSize": 10.5}, "title": null},
     "color": {"field": "series", "type": "nominal", "scale": {"domain": ["miR30_shMTHFD2_2 - Dox", "miR30_shMTHFD2_2 + Dox"], "range": ["#333333", "#e05a5a"]}, "legend": {"title": null, "orient": "none", "legendX": 607.5, "legendY": 897.25, "symbolType": "M-2.5,0H2.5", "symbolSize": 64, "symbolStrokeWidth": 1.5, "labelFontSize": 11.5, "labelOffset": 9.5, "rowPadding": 0.5}}}},
   {"data": {"values": [{}]}, "mark": {"type": "text", "text": "P", "fontStyle": "italic", "fontSize": 11.5, "align": "left", "baseline": "middle"}, "encoding": {"x": {"datum": 42.7}, "y": {"datum": 8.9}}},
   {"data": {"values": [{}]}, "mark": {"type": "text", "text": "= 0.014", "fontSize": 11.5, "align": "left", "baseline": "middle"}, "encoding": {"x": {"datum": 44.1}, "y": {"datum": 8.9}}}
  ]
 }
]
}
